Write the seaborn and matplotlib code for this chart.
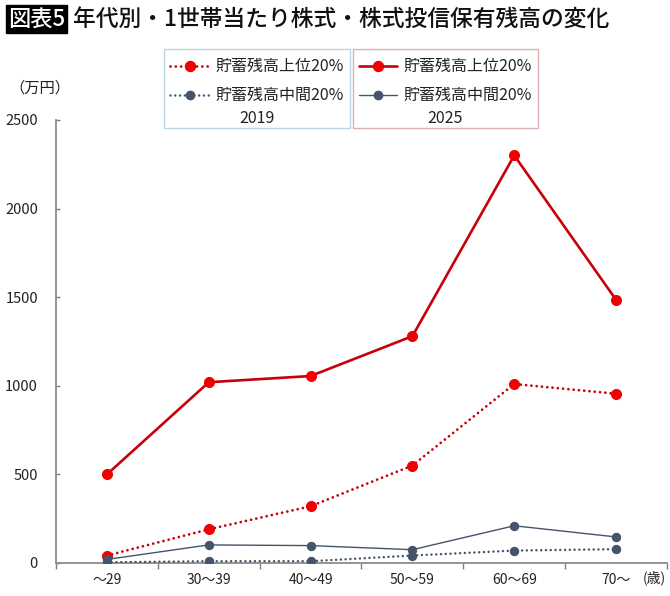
import seaborn as sns
import pandas as pd
import matplotlib.pyplot as plt
import numpy as np
from matplotlib.patches import Rectangle
from matplotlib.lines import Line2D

sns.set_style("white")
plt.rcParams['font.family'] = ['Noto Sans CJK JP', 'DejaVu Sans']

ages = ['～29', '30～39', '40～49', '50～59', '60～69', '70～']
top_2019 = [42, 190, 320, 550, 1010, 955]
mid_2019 = [4, 10, 10, 42, 70, 78]
top_2025 = [500, 1020, 1055, 1280, 2300, 1485]
mid_2025 = [20, 102, 98, 75, 210, 147]

RED_LINE = '#C8000A'
RED_DOT = '#F00000'
NAVY = '#44546A'
DOTS = (0, (0.01, 1.9))

df = pd.DataFrame({'age': ages * 4,
                   'value': top_2019 + mid_2019 + top_2025 + mid_2025,
                   'series': (['top_2019'] * 6 + ['mid_2019'] * 6 +
                              ['top_2025'] * 6 + ['mid_2025'] * 6)})

fig = plt.figure(figsize=(6.7, 5.96), dpi=100)
ax = fig.add_axes([0.0836, 0.0554, 0.9119, 0.7433])

styles = {
    'top_2019': dict(color=RED_LINE, linestyle=DOTS, lw=2.0,
                     ms=7.2, mfc=RED_DOT, zorder=3),
    'mid_2019': dict(color=NAVY, linestyle=DOTS, lw=1.8,
                     ms=6.0, mfc=NAVY, zorder=3),
    'top_2025': dict(color=RED_LINE, linestyle='-', lw=1.9,
                     ms=7.2, mfc=RED_DOT, zorder=4),
    'mid_2025': dict(color=NAVY, linestyle='-', lw=1.0,
                     ms=6.0, mfc=NAVY, zorder=4),
}
for key in ['mid_2019', 'top_2019', 'mid_2025', 'top_2025']:
    st = styles[key]
    sns.lineplot(data=df[df['series'] == key], x='age', y='value', ax=ax,
                 color=st['color'], linewidth=st['lw'],
                 marker='o', markersize=st['ms'],
                 markerfacecolor=st['mfc'], markeredgecolor=st['mfc'],
                 zorder=st['zorder'], sort=False)
    ln = ax.lines[-1]
    ln.set_linestyle(st['linestyle'])
    ln.set_dash_capstyle('round')

ax.set_xlim(-0.5, len(ages) - 0.5)
ax.set_ylim(0, 2500)
ax.set_yticks([0, 500, 1000, 1500, 2000, 2500])
ax.tick_params(axis='y', direction='in', length=3, width=1, color='#808080',
               pad=13, labelsize=10.5, left=True)
ax.set_xticks(np.arange(-0.5, len(ages), 1))
ax.set_xticklabels([''] * (len(ages) + 1))
ax.set_xticks(np.arange(len(ages)), minor=True)
ax.set_xticklabels(ages, minor=True)
ax.tick_params(axis='x', which='major', direction='out', length=4, width=1,
               color='#808080', bottom=True)
ax.tick_params(axis='x', which='minor', length=0, pad=7, labelsize=10)
for lab in ax.get_yticklabels() + ax.get_xticklabels(minor=True):
    lab.set_color('#222222')
ax.set_xlabel('')
ax.set_ylabel('')
for s in ['top', 'right']:
    ax.spines[s].set_visible(False)
for s in ['left', 'bottom']:
    ax.spines[s].set_color('#8C8C8C')
    ax.spines[s].set_linewidth(1.3)

fig.text(666 / 670, 1 - 578 / 596, '(歳)', ha='right', va='center', fontsize=10,
         color='#222222')
fig.text(40 / 670, 1 - 88 / 596, '（万円）', ha='center', va='center', fontsize=11,
         color='#222222')

# title
fig.text(8 / 670, 1 - 19 / 596, '図表5', ha='left', va='center', fontsize=16,
         fontweight='medium', color='white',
         bbox=dict(boxstyle='square,pad=0.1', fc='black', ec='black'))
fig.text(73 / 670, 1 - 19 / 596, '年代別・1世帯当たり株式・株式投信保有残高の変化',
         ha='left', va='center', fontsize=16.4, fontweight='medium', color='#111111')

# legends
def make_legend(keys, year, x0, x1, edge):
    handles = []
    for k in keys:
        st = styles[k]
        handles.append(Line2D([], [], color=st['color'], linestyle=st['linestyle'],
                              lw=st['lw'], marker='o', ms=st['ms'],
                              mfc=st['mfc'], mec=st['mfc'],
                              dash_capstyle='round'))
    labels = ['貯蓄残高上位20%', '貯蓄残高中間20%']
    leg = fig.legend(handles, labels, loc='upper center',
                     bbox_to_anchor=((x0 + x1) / 2 / 670, 1 - 52 / 596),
                     frameon=False, fontsize=11.5, handlelength=2.4,
                     handletextpad=0.4, labelspacing=0.75, borderaxespad=0,
                     title=year, title_fontsize=11.5)
    leg._legend_box._children = [leg._legend_handle_box, leg._legend_title_box]
    leg._legend_box.sep = 4
    for t in leg.get_texts():
        t.set_color('#222222')
    leg.get_title().set_color('#222222')
    fig.add_artist(Rectangle((x0 / 670, 1 - 128 / 596), (x1 - x0) / 670,
                             79 / 596, transform=fig.transFigure,
                             fill=False, ec=edge, lw=1.0))
    return leg

make_legend(['top_2019', 'mid_2019'], '2019', 164, 350, '#BBD3E3')
make_legend(['top_2025', 'mid_2025'], '2025', 353, 538, '#DDB0B0')

fig.savefig('out.png', dpi=100)
